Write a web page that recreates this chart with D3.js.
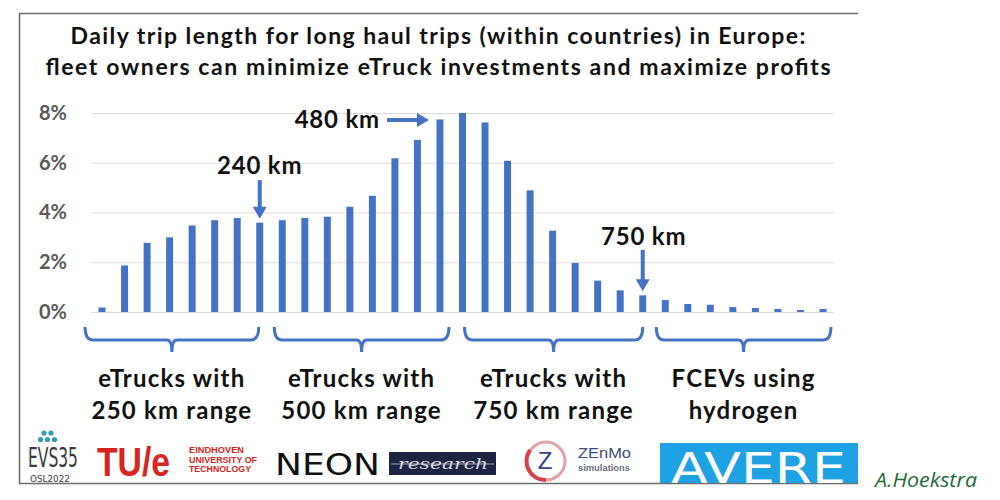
<!DOCTYPE html>
<html>
<head>
<meta charset="utf-8">
<script src="https://cdn.jsdelivr.net/npm/d3@7"></script>
<style>
  html, body { margin: 0; padding: 0; background: #fff; }
  svg { display: block; }
</style>
</head>
<body>
<svg id="chart" width="1000" height="500"></svg>
<script>
// ---- data ----
const titleLines = [
  "Daily trip length for long haul trips (within countries) in Europe:",
  "fleet owners can minimize eTruck investments and maximize profits"
];
const distanceKm = [30,60,90,120,150,180,210,240,270,300,330,360,390,420,450,480,510,540,570,600,630,660,690,720,750,780,810,840,870,900,930,960,990];
const sharePct = [0.18,1.87,2.78,3.0,3.48,3.69,3.78,3.59,3.69,3.78,3.83,4.23,4.67,6.18,6.92,7.74,8.0,7.62,6.08,4.89,3.27,1.97,1.26,0.87,0.67,0.48,0.32,0.29,0.2,0.16,0.12,0.08,0.12];
const yTicks = [0, 2, 4, 6, 8];
const markerKm = [240, 480, 750];
const markerLabels = ["240 km", "480 km", "750 km"];
const groupLabels = [["eTrucks with", "250 km range"], ["eTrucks with", "500 km range"], ["eTrucks with", "750 km range"], ["FCEVs using", "hydrogen"]];
const groupFirstKm = [30, 270, 510, 780];
const groupLastKm = [240, 480, 750, 990];

// ---- layout ----
const svg = d3.select("#chart");
const blue = "#4472C4";
const FONT = "Lato, 'Open Sans', sans-serif";
const x = d3.scaleBand().domain(distanceKm).range([91, 834]).paddingInner(0.69).paddingOuter(0.335);
const y = d3.scaleLinear().domain([0, 8]).range([312, 113]);
const cx = km => x(km) + x.bandwidth() / 2;

// frame
svg.append("path")
  .attr("d", "M858,13.5 L19.5,13.5 L19.5,483.5 L858,483.5")
  .attr("fill", "none").attr("stroke", "#6b6b6b").attr("stroke-width", 1.5);

// title
const titleWidths = [735, 785];
svg.append("g").selectAll("text").data(titleLines).join("text")
  .attr("x", 438).attr("y", (d, i) => 44 + i * 31)
  .attr("text-anchor", "middle")
  .attr("font-family", FONT)
  .attr("font-weight", 700).attr("font-size", 23)
  .attr("textLength", (d, i) => titleWidths[i]).attr("lengthAdjust", "spacing")
  .attr("fill", "#111")
  .text(d => d);

// grid + y axis
const yAxis = d3.axisLeft(y).tickValues(yTicks).tickSize(-(834 - 91)).tickPadding(24).tickFormat(d => d + "%");
const gy = svg.append("g").attr("transform", "translate(91,0)").call(yAxis);
gy.select(".domain").remove();
gy.selectAll(".tick line").attr("stroke", "#dcdcdc").attr("stroke-width", 1);
gy.selectAll(".tick text")
  .attr("font-family", FONT)
  .attr("font-weight", 700).attr("font-size", 20).attr("fill", "#595959");

// bars
svg.append("g").selectAll("rect").data(distanceKm).join("rect")
  .attr("x", d => x(d)).attr("width", x.bandwidth())
  .attr("y", (d, i) => y(sharePct[i]))
  .attr("height", (d, i) => y(0) - y(sharePct[i]))
  .attr("fill", blue);

// annotations
const ann = svg.append("g");
const annFont = sel => sel.attr("font-family", FONT).attr("font-weight", 700).attr("font-size", 24)
  .attr("letter-spacing", 0.8).attr("fill", "#111");

function vArrow(xp, y0, y1) {
  ann.append("line").attr("x1", xp).attr("x2", xp).attr("y1", y0).attr("y2", y1 - 10).attr("stroke", blue).attr("stroke-width", 4);
  ann.append("path").attr("d", `M${xp - 7},${y1 - 12} L${xp + 7},${y1 - 12} L${xp},${y1} Z`).attr("fill", blue);
}
function hArrow(x0, x1, yp) {
  ann.append("line").attr("x1", x0).attr("x2", x1 - 10).attr("y1", yp).attr("y2", yp).attr("stroke", blue).attr("stroke-width", 4);
  ann.append("path").attr("d", `M${x1 - 12},${yp - 7} L${x1 - 12},${yp + 7} L${x1},${yp} Z`).attr("fill", blue);
}
// 240 km
{
  const xp = cx(markerKm[0]);
  vArrow(xp, y(5.3), y(sharePct[distanceKm.indexOf(markerKm[0])]) - 4);
  ann.append("text").attr("x", xp).attr("y", y(5.55)).attr("text-anchor", "middle").call(annFont).text(markerLabels[0]);
}
// 480 km
{
  const xp = cx(markerKm[1]);
  const yp = y(7.72);
  hArrow(xp - 53, xp - 11, yp);
  ann.append("text").attr("x", xp - 60).attr("y", yp + 8).attr("text-anchor", "end").call(annFont).text(markerLabels[1]);
}
// 750 km
{
  const xp = cx(markerKm[2]);
  vArrow(xp, y(2.5), y(sharePct[distanceKm.indexOf(markerKm[2])]) - 4);
  ann.append("text").attr("x", xp + 1).attr("y", y(2.7)).attr("text-anchor", "middle").call(annFont).text(markerLabels[2]);
}

// group brackets
const brk = svg.append("g");
const startOff = [-17, -8, 2, -9];
const endOff = [-1, 9, 0, 8];
groupLabels.forEach((lab, i) => {
  const x0 = cx(groupFirstKm[i]) + startOff[i];
  const x1 = cx(groupLastKm[i]) + endOff[i];
  const m = (x0 + x1) / 2;
  const yb = 340;
  brk.append("path")
    .attr("d", `M${x0},327 Q${x0},${yb} ${x0 + 8},${yb} L${m - 5},${yb} Q${m},${yb} ${m},${yb + 12} Q${m},${yb} ${m + 5},${yb} L${x1 - 8},${yb} Q${x1},${yb} ${x1},327`)
    .attr("fill", "none").attr("stroke", blue).attr("stroke-width", 3);
  brk.selectAll(null).data(lab).join("text")
    .attr("x", m).attr("y", (d, j) => 387 + j * 32)
    .attr("text-anchor", "middle").call(annFont).attr("letter-spacing", 1.2)
    .text(d => d);
});

// ---- logos (footer) ----
const logo = svg.append("g");
// EVS35
[[44, 433], [51, 433], [40.5, 439.5], [47.5, 439.5], [54.5, 439.5]].forEach(p =>
  logo.append("circle").attr("cx", p[0]).attr("cy", p[1]).attr("r", 2.6).attr("fill", "#2f9db0"));
logo.append("text").attr("transform", "translate(28,467) scale(1,1.6)")
  .attr("font-family", "'DejaVu Sans Condensed', 'DejaVu Sans', sans-serif")
  .attr("font-size", 17).attr("fill", "#3a3a3a").attr("textLength", 50).attr("lengthAdjust", "spacingAndGlyphs").text("EVS35");
logo.append("text").attr("x", 30).attr("y", 481.5).attr("font-family", "'DejaVu Sans Condensed', 'DejaVu Sans', sans-serif")
  .attr("font-size", 8.5).attr("fill", "#3a3a3a").attr("textLength", 40).attr("lengthAdjust", "spacingAndGlyphs").text("OSL2022");
// TU/e
logo.append("text").attr("transform", "translate(97,476) scale(1,1.25)")
  .attr("font-family", "'Liberation Sans', Arial, sans-serif")
  .attr("font-weight", 700).attr("font-size", 33).attr("fill", "#d7261e").attr("textLength", 73).attr("lengthAdjust", "spacingAndGlyphs").text("TU/e");
["EINDHOVEN", "UNIVERSITY OF", "TECHNOLOGY"].forEach((t, i) =>
  logo.append("text").attr("x", 189).attr("y", 453 + i * 9.5).attr("font-family", "'Liberation Sans', Arial, sans-serif")
    .attr("font-weight", 700).attr("font-size", 8.5).attr("fill", "#d7261e").attr("textLength", i === 1 ? 68 : (i === 0 ? 55 : 62)).attr("lengthAdjust", "spacingAndGlyphs").text(t));
// NEON research
logo.append("text").attr("x", 275).attr("y", 475).attr("font-family", "'DejaVu Sans', sans-serif")
  .attr("font-size", 31).attr("fill", "#111").attr("textLength", 105).attr("lengthAdjust", "spacingAndGlyphs").text("NEON");
logo.append("rect").attr("x", 389).attr("y", 452).attr("width", 107).attr("height", 23).attr("fill", "#1d2342");
logo.append("line").attr("x1", 391).attr("x2", 494).attr("y1", 464).attr("y2", 464).attr("stroke", "#c9cbd6").attr("stroke-width", 0.8);
logo.append("text").attr("x", 398).attr("y", 469).attr("font-family", "'DejaVu Serif', serif").attr("font-style", "italic")
  .attr("font-size", 15).attr("fill", "#d8dae4").attr("textLength", 90).attr("lengthAdjust", "spacingAndGlyphs").text("research");
// ZEnMo
logo.append("circle").attr("cx", 546).attr("cy", 461).attr("r", 19).attr("fill", "none").attr("stroke", "#e2a0a8").attr("stroke-width", 3);
logo.append("path").attr("d", "M546,480 A19,19 0 0 1 530,450").attr("fill", "none").attr("stroke", "#d6404a").attr("stroke-width", 4);
logo.append("text").attr("x", 545).attr("y", 469).attr("text-anchor", "middle").attr("font-family", "'Liberation Sans', Arial, sans-serif")
  .attr("font-size", 24).attr("fill", "#33408a").text("Z");
logo.append("text").attr("x", 578).attr("y", 458).attr("font-family", "'Liberation Sans', Arial, sans-serif")
  .attr("font-size", 15).attr("fill", "#3d4a7a").attr("textLength", 53).attr("lengthAdjust", "spacingAndGlyphs").text("ZEnMo");
logo.append("text").attr("x", 578).attr("y", 471).attr("font-family", "'Liberation Sans', Arial, sans-serif")
  .attr("font-size", 9).attr("font-weight", 700).attr("fill", "#6a7080").attr("textLength", 52).attr("lengthAdjust", "spacingAndGlyphs").text("simulations");
// AVERE
logo.append("rect").attr("x", 660).attr("y", 443).attr("width", 198).attr("height", 40).attr("fill", "#1ea2e4");
logo.append("text").attr("x", 671).attr("y", 483).attr("font-family", "'DejaVu Sans', sans-serif")
  .attr("font-size", 42).attr("fill", "#fff").attr("textLength", 175).attr("lengthAdjust", "spacingAndGlyphs").text("AVERE");
// author
logo.append("text").attr("x", 875).attr("y", 487).attr("font-family", "'Open Sans', sans-serif").attr("font-style", "italic")
  .attr("font-size", 20).attr("fill", "#1f6a3c").attr("textLength", 102).attr("lengthAdjust", "spacingAndGlyphs").text("A.Hoekstra");
</script>
</body>
</html>
